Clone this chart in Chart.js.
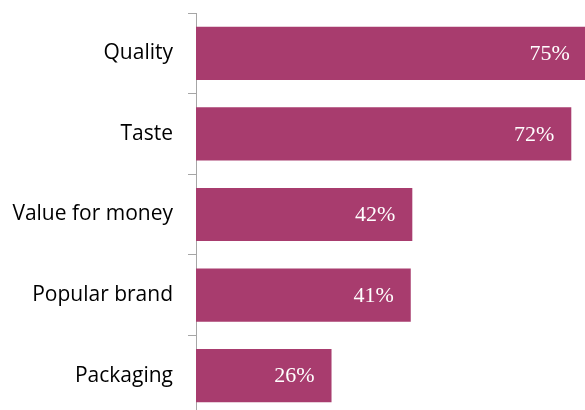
<!DOCTYPE html>
<html>
<head>
<meta charset="utf-8">
<script src="https://cdn.jsdelivr.net/npm/chart.js@4/dist/chart.umd.min.js"></script>
<style>
    html, body { margin: 0; padding: 0; overflow: hidden; background: #fff; }
    #wrap { position: absolute; left: 0; top: 0; width: 613px; height: 416px; }
</style>
</head>
<body>
<div id="wrap">
    <canvas id="myChart" width="613" height="416"></canvas>
</div>
<script>
// chart data
var categories = ["Quality", "Taste", "Value for money", "Popular brand", "Packaging"];
var values = [75, 72, 41.5, 41.2, 26];
var valueLabels = ["75%", "72%", "42%", "41%", "26%"];

// draws the white % labels inside the end of each bar
var barLabels = {
    id: 'barLabels',
    afterDatasetsDraw: function (chart) {
        var ctx = chart.ctx;
        var meta = chart.getDatasetMeta(0);
        ctx.save();
        ctx.fillStyle = "#ffffff";
        ctx.font = "22px 'Liberation Serif'";
        ctx.textAlign = "right";
        ctx.textBaseline = "middle";
        meta.data.forEach(function (bar, i) {
            ctx.fillText(valueLabels[i], bar.x - 17, bar.y + 1);
        });
        ctx.restore();
    }
};

var ctx = document.getElementById("myChart").getContext('2d');
var myChart = new Chart(ctx, {
    type: 'bar',
    data: {
        labels: categories,
        datasets: [{
            data: values,
            backgroundColor: "#A83C6E",
            borderWidth: 0,
            categoryPercentage: 1,
            barPercentage: 0.66
        }]
    },
    options: {
        indexAxis: 'y',
        responsive: false,
        animation: false,
        layout: { padding: { top: 13, left: 0, right: 0, bottom: 0 } },
        plugins: {
            legend: { display: false },
            tooltip: { enabled: false }
        },
        scales: {
            x: {
                display: false,
                min: 0,
                max: 80
            },
            y: {
                afterFit: function (scale) {
                    scale.width = 196;
                    scale.paddingTop = 0;
                    scale.paddingBottom = 0;
                },
                border: { color: "#A6A6A6", width: 1 },
                grid: {
                    offset: true,
                    drawOnChartArea: false,
                    drawTicks: true,
                    tickLength: 8,
                    color: "#A6A6A6"
                },
                ticks: {
                    padding: 15,
                    color: "#000000",
                    font: { family: "'Open Sans'", size: 21 }
                }
            }
        }
    },
    plugins: [barLabels]
});
</script>
</body>
</html>
